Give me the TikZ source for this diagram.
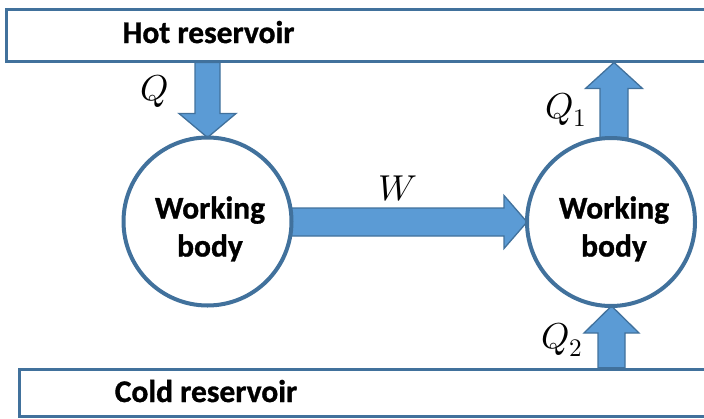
\documentclass[tikz,border=0pt]{standalone}
\usepackage{fontspec}
\usepackage{unicode-math}
\setsansfont[BoldFeatures={FakeBold=1}]{Carlito}
\usetikzlibrary{calc}
\definecolor{edge}{RGB}{65,113,156}
\definecolor{flow}{RGB}{91,155,213}
\begin{document}
\begin{tikzpicture}[x=1pt,y=-1pt,
  reservoir/.style={draw=edge,line width=3pt,rectangle,inner sep=0pt},
  body/.style={draw=edge,line width=4pt,circle,fill=white,minimum size=168pt,inner sep=0pt},
  bodytext/.style={align=center,inner sep=0pt,anchor=base,
    font=\sffamily\bfseries\fontsize{31.5}{38}\selectfont},
  flowarrow/.style={draw=edge,fill=flow,line width=1.3pt,line join=miter},
  lbl/.style={font=\sffamily\bfseries\fontsize{31.5}{34}\selectfont,inner sep=0pt,anchor=base},
  qty/.style={font=\fontsize{36}{40}\selectfont,inner sep=0pt,anchor=base west}]
\useasboundingbox (0,0) rectangle (704,418);

% reservoirs (they run past the right edge)
\node[reservoir,minimum width=713.3pt,minimum height=52pt] (hot) at (363.4,35) {};
\node[reservoir,minimum width=701pt,minimum height=46.7pt] (cold) at (369.5,392.7) {};
\node[lbl] (hotlbl) at (208.5,43) {Hot reservoir};
\node[lbl] (coldlbl) at (206,402) {Cold reservoir};

% centres of the two working bodies
\coordinate (wbA) at (207.5,221.5);
\coordinate (wbB) at (611,222);

% heat flows and work (drawn below the bodies)
\path (wbA) ++(0,-84) coordinate (qtip);
\coordinate (qstart) at (hot.south -| qtip);
\draw[flowarrow] let \p1=(qstart), \p2=(qtip) in
  (\x1-12.5pt,\y1) -- (\x1-12.5pt,\y2+24pt) -- (\x1-28.5pt,\y2+24pt) -- (\x2,\y2)
  -- (\x1+28.5pt,\y2+24pt) -- (\x1+12.5pt,\y2+24pt) -- (\x1+12.5pt,\y1) -- cycle;

\path (wbB) ++(3,-84) coordinate (q1start);
\coordinate (q1tip) at (hot.south -| q1start);
\draw[flowarrow] let \p1=(q1start), \p2=(q1tip) in
  (\x1-14pt,\y1) -- (\x1-14pt,\y2-26pt) -- (\x1-28.5pt,\y2-26pt) -- (\x2,\y2)
  -- (\x1+28.5pt,\y2-26pt) -- (\x1+14pt,\y2-26pt) -- (\x1+14pt,\y1) -- cycle;

\path (wbB) ++(0.5,84) coordinate (q2tip);
\coordinate (q2start) at (cold.north -| q2tip);
\draw[flowarrow] let \p1=(q2start), \p2=(q2tip) in
  (\x1-13.5pt,\y1) -- (\x1-13.5pt,\y2-27pt) -- (\x1-27.5pt,\y2-27pt) -- (\x2,\y2)
  -- (\x1+27.5pt,\y2-27pt) -- (\x1+13.5pt,\y2-27pt) -- (\x1+13.5pt,\y1) -- cycle;

\path (wbA) ++(84,0) coordinate (wstart);
\path (wbB) ++(-84,0) coordinate (wtip);
\draw[flowarrow] let \p1=(wstart), \p2=(wtip) in
  (\x1,\y2-14pt) -- (\x2-23pt,\y2-14pt) -- (\x2-23pt,\y2-26.5pt) -- (\x2,\y2)
  -- (\x2-23pt,\y2+26.5pt) -- (\x2-23pt,\y2+14pt) -- (\x1,\y2+14pt) -- cycle;

% working bodies (text placed by the baseline of its last line)
\node[body] (wb1) at (wbA) {};
\node[body] (wb2) at (wbB) {};
\node[bodytext] (wb1txt) at ($(wb1.center)+(2.5,35)$) {Working\\body};
\node[bodytext] (wb2txt) at ($(wb2.center)+(3,34.5)$) {Working\\body};

% quantities
\node[qty] (qlbl) at (140,100) {$Q$};
\node[qty] (q1lbl) at (545,118) {$Q_1$};
\node[qty] (q2lbl) at (541,348) {$Q_2$};
\node[qty] (wlbl) at (378,200) {$W$};
\end{tikzpicture}
\end{document}
